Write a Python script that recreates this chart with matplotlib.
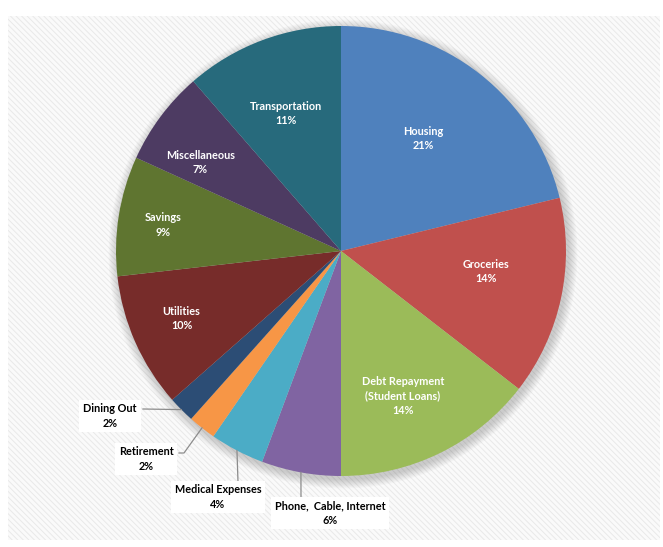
import numpy as np
import matplotlib
matplotlib.use("Agg")
import matplotlib.pyplot as plt
from matplotlib.patches import Rectangle, Circle

categories = ["Housing", "Groceries", "Debt Repayment\n(Student Loans)", "Phone,  Cable, Internet",
              "Medical Expenses", "Retirement", "Dining Out", "Utilities", "Savings",
              "Miscellaneous", "Transportation"]
values = [21.2, 14.3, 14.5, 5.7, 3.9, 2.0, 1.9, 9.7, 8.6, 6.8, 11.4]
pct_labels = ["21%", "14%", "14%", "6%", "4%", "2%", "2%", "10%", "9%", "7%", "11%"]
colors = ["#4F81BD", "#C0504D", "#9BBB59", "#8064A2", "#4BACC6", "#F79646",
          "#2C4D75", "#772C2A", "#5F7530", "#4D3B62", "#276A7C"]

# layout: (radial fraction, angular shift in degrees) for labels inside the wedges
CX, CY, R = 341, 251, 225
inside_pos = {0: (0.62, -2.0), 1: (0.65, -4.0), 2: (0.70, 3.0), 7: (0.77, 1.0),
              8: (0.80, -0.7), 9: (0.74, -4.5), 10: (0.66, -1.4)}
outside = {  # text centre, leader points from label side
    6: ((110, 416), [(143, 409)]),
    5: ((146, 459), [(179, 453), (184, 453)]),
    4: ((218, 497), [(238, 482)]),
    3: ((330, 513), [(301, 498)]),
}

plt.rcParams['font.family'] = ['Lato', 'DejaVu Sans']
fig = plt.figure(figsize=(6.63, 5.47), dpi=100)
ax = fig.add_axes([0, 0, 1, 1])

plt.rcParams['hatch.color'] = '#e9e9e9'
plt.rcParams['hatch.linewidth'] = 0.7
bg = Rectangle((8, 16), 652, 524, facecolor='#fafafa', edgecolor='#e9e9e9',
               hatch='\\\\\\\\\\\\', lw=0, zorder=0)
ax.add_patch(bg)

# soft shadow
for i in range(8):
    ax.add_patch(Circle((CX + 2, CY + 3), R + 1 + i * 1.2, facecolor='#000000',
                        alpha=0.025, lw=0, zorder=1))

wedges, _ = ax.pie(values, colors=colors, startangle=-90, counterclock=True,
                   center=(CX, CY), radius=R, frame=True,
                   wedgeprops=dict(linewidth=0))
for w in wedges:
    w.set_zorder(2)
ax.set_xlim(0, 663)
ax.set_ylim(547, 0)
ax.set_aspect('equal')
ax.axis('off')

total = sum(values)
cum = np.cumsum([0] + values) / total
for i, name in enumerate(categories):
    phi = np.pi * 2 * (cum[i] + cum[i + 1]) / 2  # clockwise from top
    if i in inside_pos:
        f, shift = inside_pos[i]
        a = phi + np.radians(shift)
        x = CX + f * R * np.sin(a)
        y = CY - f * R * np.cos(a)
        ax.text(x, y, f"{name}\n{pct_labels[i]}", color='white', fontsize=7.8,
                fontweight='bold', ha='center', va='center', linespacing=1.35, zorder=5)
    else:
        (tx, ty), pts = outside[i]
        ex = CX + R * np.sin(phi)
        ey = CY - R * np.cos(phi)
        xs = [p[0] for p in pts] + [ex]
        ys = [p[1] for p in pts] + [ey]
        ax.plot(xs, ys, color='#8c8c8c', lw=0.9, zorder=4)
        ax.text(tx, ty, f"{name}\n{pct_labels[i]}", color='black', fontsize=7.8,
                fontweight='bold', ha='center', va='center', linespacing=1.35, zorder=5,
                bbox=dict(boxstyle='square,pad=0.35', facecolor='white', edgecolor='none'))

fig.savefig('out.png', dpi=100)
